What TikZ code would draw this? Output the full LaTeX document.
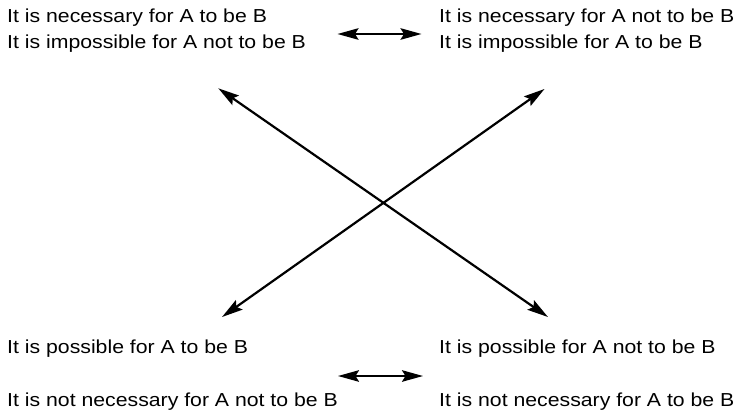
\documentclass[tikz,border=0pt]{standalone}
\usepackage{fontspec}
\setmainfont{Liberation Sans}[FakeStretch=1.13]
\usetikzlibrary{arrows.meta}
\begin{document}
\begin{tikzpicture}[x=1pt,y=-1pt,
  lbl/.style={anchor=base west,inner sep=0pt,font=\fontsize{18.8}{22}\selectfont},
  conn/.style={line width=2.2pt,{Stealth[length=21pt,width=11.5pt,inset=3.5pt]}-{Stealth[length=21pt,width=11.5pt,inset=3.5pt]}}]
\useasboundingbox (0,0) rectangle (738,415);
\fill[white] (0,0) rectangle (738,415);
\node[lbl] (nec) at (7,22.7) {It is necessary for A to be B};
\node[lbl] (imp) at (7,48.5) {It is impossible for A not to be B};
\node[lbl] (necn) at (439,22.7) {It is necessary for A not to be B};
\node[lbl] (impn) at (439,48.5) {It is impossible for A to be B};
\node[lbl] (pos) at (7,353.3) {It is possible for A to be B};
\node[lbl] (nnecn) at (7,406) {It is not necessary for A not to be B};
\node[lbl] (posn) at (439,353.3) {It is possible for A not to be B};
\node[lbl] (nnec) at (439,406) {It is not necessary for A to be B};
\coordinate (tl) at (337.5,34);
\coordinate (tr) at (421.5,34);
\coordinate (bl) at (338,376);
\coordinate (br) at (423,376);
\coordinate (dTL) at (218.3,88.3);
\coordinate (dTR) at (544.5,89);
\coordinate (dBL) at (222,317);
\coordinate (dBR) at (548,317);
\draw[conn] (tl) -- (tr);
\draw[conn] (bl) -- (br);
\draw[conn] (dTL) -- (dBR);
\draw[conn] (dTR) -- (dBL);
\end{tikzpicture}
\end{document}
